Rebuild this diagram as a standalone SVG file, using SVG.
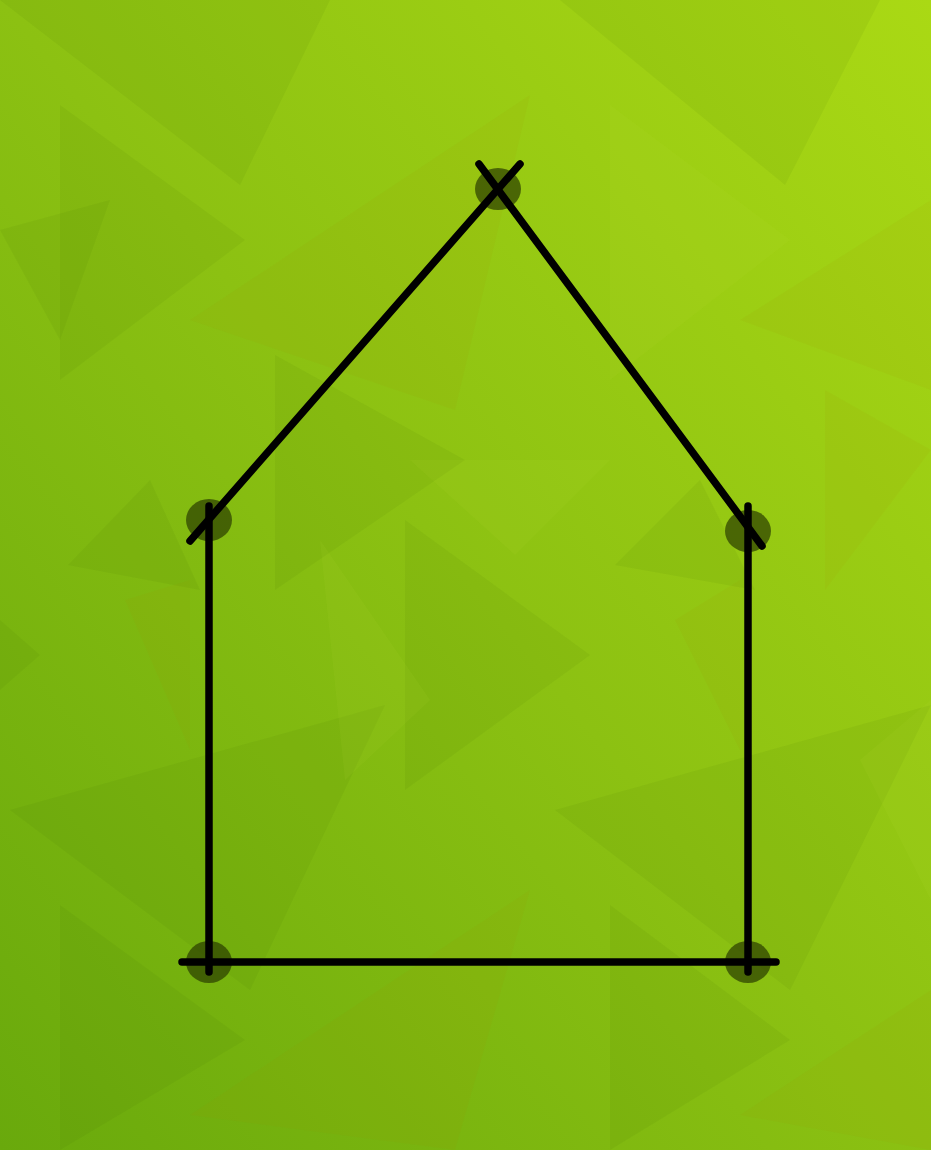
<svg xmlns="http://www.w3.org/2000/svg" width="931" height="1150" viewBox="0 0 931 1150">
<defs>
<linearGradient id="bg" x1="0" y1="1" x2="1" y2="0">
<stop offset="0" stop-color="#69a90c"/>
<stop offset="0.5" stop-color="#8cc112"/>
<stop offset="1" stop-color="#aad914"/>
</linearGradient>
<style>
.edge{stroke:#000;stroke-width:7.5;stroke-linecap:round;fill:none}
.pt{fill:#2a3c00;fill-opacity:0.7}
.td{fill:#3a6a00;fill-opacity:0.07}
.tl{fill:#c8e040;fill-opacity:0.07}
.ty{fill:#a08a00;fill-opacity:0.08}
</style>
</defs>
<rect width="931" height="1150" fill="url(#bg)"/>
<g id="pattern">
<polygon class="td" points="60,105 245,240 60,380"/>
<polygon class="td" points="0,0 240,185 330,0"/>
<polygon class="ty" points="190,320 530,95 455,410"/>
<polygon class="tl" points="610,105 790,240 610,380"/>
<polygon class="td" points="560,0 785,185 880,0"/>
<polygon class="ty" points="740,320 931,200 931,390"/>
<polygon class="td" points="0,230 110,200 60,340"/>
<polygon class="td" points="275,355 465,460 275,590"/>
<polygon class="tl" points="410,460 610,460 515,555"/>
<polygon class="td" points="68,565 150,480 200,590"/>
<polygon class="td" points="615,565 700,480 755,590"/>
<polygon class="ty" points="825,390 931,450 825,590"/>
<polygon class="td" points="405,520 590,655 405,790"/>
<polygon class="ty" points="125,600 190,580 190,750"/>
<polygon class="ty" points="675,620 740,580 740,750"/>
<polygon class="td" points="0,620 40,655 0,690"/>
<polygon class="td" points="10,810 385,705 250,990"/>
<polygon class="td" points="555,810 931,705 790,990"/>
<polygon class="td" points="60,905 245,1040 60,1150"/>
<polygon class="ty" points="190,1115 530,890 455,1150"/>
<polygon class="td" points="610,905 790,1040 610,1150"/>
<polygon class="ty" points="740,1115 931,990 931,1150"/>
<polygon class="tl" points="320,540 345,780 430,700"/>
<polygon class="tl" points="860,760 931,700 931,900"/>
</g>
<g id="nodes">
<g id="n-top"><ellipse class="pt" cx="498" cy="189" rx="23" ry="21"/></g>
<g id="n-left"><ellipse class="pt" cx="209" cy="520" rx="23" ry="21"/></g>
<g id="n-right"><ellipse class="pt" cx="748" cy="531" rx="23" ry="21"/></g>
<g id="n-bl"><ellipse class="pt" cx="209" cy="962" rx="23" ry="21"/></g>
<g id="n-br"><ellipse class="pt" cx="748" cy="962" rx="23" ry="21"/></g>
</g>
<g id="connectors">
<line class="edge" x1="520" y1="164" x2="190" y2="541"/>
<line class="edge" x1="479" y1="164" x2="762" y2="546"/>
<line class="edge" x1="209" y1="506" x2="209" y2="972"/>
<line class="edge" x1="748" y1="506" x2="748" y2="972"/>
<line class="edge" x1="182" y1="962" x2="776" y2="962"/>
</g>
</svg>
